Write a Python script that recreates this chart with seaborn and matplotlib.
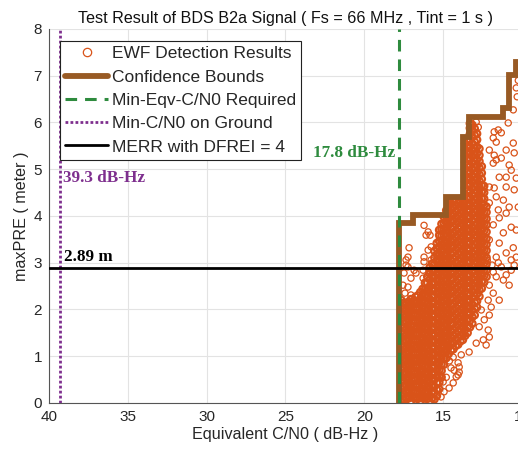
import numpy as np
import pandas as pd
import matplotlib
matplotlib.use('Agg')
import matplotlib.pyplot as plt
from matplotlib.lines import Line2D
import seaborn as sns

# dense part of the EWF detection cloud: column C/N0 values and the maxPRE values read in each column
dense_cn0 = [17.65, 17.35, 17.05, 16.75, 16.45, 16.15, 15.85, 15.55, 15.25, 14.95,
             14.65, 14.35, 14.05, 13.75, 13.45, 13.15, 12.85, 12.55, 12.25]
dense_pre = [
    [0.03, 0.17, 0.3, 0.45, 0.57, 0.72, 0.85, 0.99, 1.12, 1.25, 1.4, 1.53, 1.66, 1.81, 1.94, 2.07, 2.2],
    [0.09, 0.22, 0.37, 0.51, 0.63, 0.78, 0.92, 1.05, 1.18, 1.33, 1.46, 1.59, 1.74, 1.88, 2.01, 2.14],
    [0.04, 0.17, 0.31, 0.43, 0.58, 0.72, 0.85, 0.99, 1.14, 1.27, 1.41, 1.54, 1.67, 1.82, 1.96, 2.09, 2.22],
    [0.1, 0.24, 0.38, 0.51, 0.64, 0.79, 0.93, 1.06, 1.19, 1.34, 1.47, 1.6, 1.75, 1.89, 2.02, 2.15, 2.27],
    [0.03, 0.16, 0.3, 0.45, 0.58, 0.71, 0.86, 0.99, 1.13, 1.26, 1.4, 1.55, 1.68, 1.81, 1.95, 2.1, 2.23, 2.37],
    [0.1, 0.23, 0.38, 0.51, 0.64, 0.78, 0.93, 1.06, 1.2, 1.33, 1.48, 1.61, 1.74, 1.89, 2.02, 2.16, 2.3, 2.43, 2.57],
    [0.03, 0.16, 0.31, 0.44, 0.57, 0.71, 0.86, 0.99, 1.12, 1.27, 1.4, 1.53, 1.68, 1.81, 1.95, 2.08, 2.22,
     2.37, 2.5, 2.64, 2.77, 2.9],
    [0.08, 0.22, 0.35, 0.5, 0.64, 0.77, 0.9, 1.05, 1.18, 1.32, 1.47, 1.6, 1.73, 1.88, 2.01, 2.15, 2.29,
     2.42, 2.56, 2.7, 2.84, 2.97, 3.11, 3.25],
    [0.3, 0.44, 0.57, 0.7, 0.85, 0.98, 1.12, 1.27, 1.4, 1.53, 1.67, 1.82, 1.95, 2.08, 2.23, 2.36, 2.49,
     2.63, 2.78, 2.91, 3.04, 3.18, 3.33, 3.46, 3.59, 3.7],
    [0.82, 0.96, 1.09, 1.23, 1.38, 1.51, 1.64, 1.78, 1.93, 2.06, 2.19, 2.33, 2.48, 2.61, 2.74, 2.88, 3.03,
     3.16, 3.29, 3.43, 3.58, 3.71, 3.84, 3.98],
    [1.05, 1.2, 1.33, 1.46, 1.6, 1.75, 1.88, 2.01, 2.15, 2.3, 2.43, 2.56, 2.71, 2.84, 2.97, 3.11, 3.26,
     3.39, 3.52, 3.66, 3.81, 3.94, 4.07, 4.21, 4.3],
    [1.15, 1.28, 1.43, 1.56, 1.69, 1.83, 1.98, 2.11, 2.24, 2.38, 2.53, 2.66, 2.79, 2.93, 3.08, 3.21, 3.34,
     3.48, 3.63, 3.76, 3.89, 4.03, 4.18, 4.3],
    [1.25, 1.39, 1.53, 1.66, 1.8, 1.94, 2.08, 2.21, 2.35, 2.49, 2.63, 2.76, 2.9, 3.04, 3.18, 3.31, 3.45,
     3.59, 3.73, 3.86, 4.0, 4.14, 4.27],
    [1.35, 1.48, 1.63, 1.76, 1.89, 2.03, 2.18, 2.31, 2.44, 2.58, 2.73, 2.86, 2.99, 3.13, 3.28, 3.41, 3.54,
     3.68, 3.83, 3.96, 4.09, 4.23, 4.33],
    [1.5, 1.63, 1.78, 1.91, 2.04, 2.18, 2.33, 2.46, 2.59, 2.73, 2.88, 3.01, 3.14, 3.28, 3.43, 3.56, 3.69,
     3.83, 3.98, 4.11, 4.24, 4.38, 4.53, 4.66, 4.79, 4.93, 5.08, 5.21, 5.34, 5.48, 5.6],
    [1.7, 1.84, 1.98, 2.11, 2.25, 2.39, 2.53, 2.66, 2.8, 2.94, 3.08, 3.21, 3.35, 3.49, 3.63, 3.76, 3.9,
     4.04, 4.18, 4.31, 4.45, 4.59, 4.73, 4.86, 5.0, 5.14, 5.28, 5.41, 5.55, 5.69, 5.82, 5.95],
    [2.05, 2.18, 2.33, 2.46, 2.59, 2.73, 2.88, 3.01, 3.14, 3.28, 3.43, 3.56, 3.69, 3.83, 3.98, 4.11, 4.24,
     4.38, 4.53, 4.66, 4.79, 4.93, 5.08, 5.21, 5.34, 5.48, 5.63, 5.76],
    [2.45, 2.59, 2.72, 2.86, 3.0, 3.14, 3.27, 3.41, 3.55, 3.69, 3.82, 3.96, 4.1, 4.24, 4.37, 4.51, 4.65,
     4.79, 4.92, 5.06],
    [2.7, 2.84, 2.97, 3.11, 3.26, 3.39, 3.52, 3.66, 3.81, 3.94, 4.08, 4.2],
]

# second pass of dense columns, read between the columns above
dense2_cn0 = [17.5, 17.2, 16.9, 16.6, 16.3, 16.0, 15.7, 15.4, 15.1, 14.8,
              14.5, 14.2, 13.9, 13.6, 13.3, 13.0, 12.7, 12.4]
dense2_pre = [
    [0.08, 0.22, 0.36, 0.5, 0.64, 0.77, 0.92, 1.05, 1.19, 1.32, 1.47, 1.6, 1.74, 1.88, 2.01, 2.14],
    [0.1, 0.24, 0.37, 0.52, 0.65, 0.79, 0.92, 1.07, 1.2, 1.33, 1.48, 1.61, 1.75, 1.89, 2.02, 2.16],
    [0.11, 0.24, 0.38, 0.52, 0.66, 0.79, 0.93, 1.07, 1.21, 1.34, 1.48, 1.62, 1.76, 1.89, 2.03, 2.17],
    [0.09, 0.23, 0.37, 0.51, 0.64, 0.78, 0.92, 1.06, 1.19, 1.33, 1.47, 1.61, 1.74, 1.88, 2.02, 2.16, 2.3],
    [0.1, 0.24, 0.38, 0.51, 0.65, 0.79, 0.93, 1.06, 1.2, 1.34, 1.48, 1.61, 1.75, 1.89, 2.03, 2.16, 2.3, 2.44],
    [0.09, 0.23, 0.37, 0.5, 0.64, 0.78, 0.92, 1.05, 1.19, 1.33, 1.47, 1.6, 1.74, 1.88, 2.02, 2.15, 2.29,
     2.43, 2.57, 2.7],
    [0.1, 0.23, 0.37, 0.51, 0.65, 0.78, 0.92, 1.06, 1.2, 1.33, 1.47, 1.61, 1.75, 1.88, 2.02, 2.16, 2.3,
     2.43, 2.57, 2.71, 2.85, 2.98],
    [0.15, 0.29, 0.43, 0.56, 0.7, 0.84, 0.98, 1.11, 1.25, 1.39, 1.53, 1.66, 1.8, 1.94, 2.08, 2.21, 2.35,
     2.49, 2.63, 2.76, 2.9, 3.04, 3.18, 3.31, 3.42],
    [0.55, 0.69, 0.83, 0.96, 1.1, 1.24, 1.38, 1.51, 1.65, 1.79, 1.93, 2.06, 2.2, 2.34, 2.48, 2.61, 2.75,
     2.89, 3.03, 3.16, 3.3, 3.44, 3.58, 3.71, 3.83],
    [0.96, 1.1, 1.24, 1.38, 1.51, 1.65, 1.79, 1.93, 2.06, 2.2, 2.34, 2.48, 2.61, 2.75, 2.89, 3.03, 3.16,
     3.3, 3.44, 3.58, 3.71, 3.85, 3.99, 4.12],
    [1.12, 1.26, 1.4, 1.53, 1.67, 1.81, 1.95, 2.08, 2.22, 2.36, 2.5, 2.63, 2.77, 2.91, 3.05, 3.18, 3.32,
     3.46, 3.6, 3.73, 3.87, 4.01, 4.15, 4.27],
    [1.22, 1.36, 1.49, 1.63, 1.77, 1.91, 2.04, 2.18, 2.32, 2.46, 2.59, 2.73, 2.87, 3.01, 3.14, 3.28, 3.42,
     3.56, 3.69, 3.83, 3.97, 4.11, 4.24],
    [1.32, 1.45, 1.59, 1.73, 1.87, 2.0, 2.14, 2.28, 2.42, 2.55, 2.69, 2.83, 2.97, 3.1, 3.24, 3.38, 3.52,
     3.65, 3.79, 3.93, 4.07, 4.2, 4.31],
    [1.44, 1.57, 1.71, 1.85, 1.99, 2.12, 2.26, 2.4, 2.54, 2.67, 2.81, 2.95, 3.09, 3.22, 3.36, 3.5, 3.64,
     3.77, 3.91, 4.05, 4.19, 4.32, 4.46, 4.6, 4.74, 4.87, 5.01, 5.15, 5.29, 5.42, 5.55],
    [1.62, 1.76, 1.9, 2.03, 2.17, 2.31, 2.45, 2.58, 2.72, 2.86, 3.0, 3.13, 3.27, 3.41, 3.55, 3.68, 3.82,
     3.96, 4.1, 4.23, 4.37, 4.51, 4.65, 4.78, 4.92, 5.06, 5.2, 5.33, 5.47, 5.61, 5.75, 5.88, 5.98],
    [1.88, 2.02, 2.15, 2.29, 2.43, 2.57, 2.7, 2.84, 2.98, 3.12, 3.25, 3.39, 3.53, 3.67, 3.8, 3.94, 4.08,
     4.22, 4.35, 4.49, 4.63, 4.77, 4.9, 5.04, 5.18, 5.32, 5.45, 5.59, 5.73, 5.87],
    [2.28, 2.42, 2.55, 2.69, 2.83, 2.97, 3.1, 3.24, 3.38, 3.52, 3.65, 3.79, 3.93, 4.07, 4.2, 4.34, 4.48,
     4.62, 4.75, 4.89, 5.03, 5.17, 5.3, 5.44],
    [2.58, 2.72, 2.85, 2.99, 3.13, 3.27, 3.4, 3.54, 3.68, 3.82, 3.95, 4.09, 4.23, 4.37, 4.5, 4.64],
]

# scattered EWF detections outside the dense core
sparse_cn0 = [16.21, 15.95, 15.83, 15.0, 15.76, 15.95, 16.21, 15.76, 16.27, 15.89, 15.57, 17.16, 17.23,
              16.84, 17.35, 16.21, 17.35, 17.23, 17.48, 17.04, 16.72, 16.27, 17.04, 17.23, 16.08, 17.55,
              17.42,
              12.90, 12.77, 10.87, 11.76, 11.50, 11.31, 11.82, 11.63, 12.07, 11.00, 10.55, 10.49, 11.76,
              11.63, 11.31, 11.82, 10.81, 10.68, 11.00, 10.36, 11.44, 12.07, 11.76, 11.00, 10.49, 11.63,
              11.18, 12.07, 10.81, 10.23, 11.50, 11.00, 11.44, 11.82, 10.68, 11.18, 10.36, 12.07, 11.44,
              10.55, 11.00, 11.63, 10.68, 10.36, 10.36, 10.55, 10.23, 10.30,
              10.81, 11.44, 11.00, 10.68, 11.18, 11.63, 12.07, 11.82, 12.14, 11.95, 12.07, 12.58, 12.39,
              12.71, 12.14, 12.07, 12.45, 12.90, 12.27, 13.35, 13.85, 13.98, 14.05, 11.82, 11.31, 10.49,
              11.90, 11.50, 12.20,
              14.81, 14.36, 14.05, 13.98, 14.17, 14.36, 14.62, 14.94, 15.13, 14.50, 14.80, 14.60, 15.00,
              14.30]
sparse_pre = [3.8, 3.66, 3.59, 3.7, 3.34, 3.27, 3.12, 3.06, 2.84, 2.84, 2.91, 3.32, 3.12,
              2.84, 2.95, 3.02, 3.06, 2.91, 2.78, 2.67, 2.78, 2.67, 2.31, 2.48, 3.59, 2.52,
              2.35,
              6.01, 5.90, 5.99, 5.80, 5.84, 5.78, 5.67, 5.58, 5.41, 5.41, 5.56, 5.35, 5.30,
              5.20, 5.24, 5.13, 5.09, 4.98, 4.83, 4.81, 4.83, 4.62, 4.60, 4.62, 4.56, 4.41,
              4.34, 4.28, 4.19, 4.19, 4.13, 4.06, 3.96, 3.81, 3.76, 3.64, 3.70, 3.49, 3.42,
              3.32, 3.21, 3.12, 3.06, 3.12, 6.74, 6.27, 6.90, 6.55,
              2.52, 2.20, 2.74, 2.84, 2.63, 2.70, 2.52, 2.35, 2.20, 2.05, 1.88, 1.99, 1.78,
              1.63, 1.56, 1.41, 1.35, 1.28, 1.24, 1.09, 1.03, 0.77, 0.60, 2.80, 2.91, 2.95,
              2.95, 3.00, 3.05,
              1.07, 0.98, 0.86, 0.66, 0.56, 0.43, 0.32, 0.24, 0.13, 0.75, 0.55, 0.90, 0.45,
              0.70]

# confidence bound staircase
bound_cn0 = [17.8, 17.8, 16.9, 16.9, 14.8, 14.8, 13.75, 13.75, 13.35, 13.35, 11.2, 11.2, 10.8, 10.8,
             10.4, 10.4, 10.0]
bound_pre = [0, 3.85, 3.85, 4.02, 4.02, 4.41, 4.41, 5.69, 5.69, 6.12, 6.12, 6.31, 6.31, 7.02, 7.02,
             7.29, 7.29]

min_eqv_cn0 = 17.8
ground_cn0 = 39.3
merr = 2.89

labels = ['EWF Detection Results', 'Confidence Bounds', 'Min-Eqv-C/N0 Required',
          'Min-C/N0 on Ground', 'MERR with DFREI = 4']

c_pts = '#D95319'
c_bound = '#985A24'
c_green = '#2E8B3E'
c_purple = '#7E2F8E'

sns.set_style('white')
plt.rcParams['font.family'] = ['Liberation Sans', 'DejaVu Sans']

dense_rows = []
for cols, vals in [(dense_cn0, dense_pre), (dense2_cn0, dense2_pre)]:
    for cx, ys in zip(cols, vals):
        dense_rows += [(cx, y) for y in ys]
df_dense = pd.DataFrame(dense_rows, columns=['cn0', 'pre'])
df_sparse = pd.DataFrame({'cn0': sparse_cn0, 'pre': sparse_pre})

fig = plt.figure(figsize=(5.18, 4.53), dpi=100)
ax = fig.add_axes([0.0946, 0.1104, 0.913, 0.8256])

ax.grid(True, color='#E3E3E3', lw=0.8)
ax.set_axisbelow(True)

# overlapping rings in the core read as a nearly solid patch
sns.scatterplot(data=df_dense, x='cn0', y='pre', ax=ax, marker='o', s=22,
                facecolor='none', edgecolor=c_pts, linewidth=1.6, legend=False, zorder=2)
sns.scatterplot(data=df_sparse, x='cn0', y='pre', ax=ax, marker='o', s=20,
                facecolor='none', edgecolor=c_pts, linewidth=0.9, legend=False, zorder=2)

ax.plot(bound_cn0, bound_pre, color=c_bound, lw=4.2, solid_joinstyle='miter', zorder=3)
ax.axvline(min_eqv_cn0, color=c_green, lw=2.2, dashes=(3.8, 2.6), zorder=4)
ax.axvline(ground_cn0, color=c_purple, lw=2.0, linestyle=(0, (1, 0.8)), zorder=4)
ax.axhline(merr, color='black', lw=2.0, zorder=5)

serif = ['Liberation Serif', 'DejaVu Serif']
ax.text(39.12, 4.81, f'{ground_cn0} dB-Hz', color=c_purple, family=serif, weight='bold',
        fontsize=12.3, va='center', ha='left')
ax.text(18.05, 5.35, f'{min_eqv_cn0} dB-Hz', color=c_green, family=serif, weight='bold',
        fontsize=12.3, va='center', ha='right')
ax.text(39.05, 3.12, f'{merr} m', color='black', family=serif, weight='bold',
        fontsize=12.3, va='center', ha='left')

ax.set_xlim(40, 10)
ax.set_ylim(0, 8)
ax.set_xticks([40, 35, 30, 25, 20, 15, 10])
ax.set_yticks(range(0, 9))
ax.tick_params(direction='in', length=4, color='#555555', labelcolor='#262626',
               labelsize=11, pad=5)
for s in ['top', 'right']:
    ax.spines[s].set_visible(False)
for s in ['left', 'bottom']:
    ax.spines[s].set_color('#555555')
    ax.spines[s].set_linewidth(0.8)

ax.set_xlabel('Equivalent C/N0 ( dB-Hz )', fontsize=11.6, color='#262626', labelpad=2)
ax.set_ylabel('maxPRE ( meter )', fontsize=11.6, color='#262626', labelpad=3)
ax.set_title('Test Result of BDS B2a Signal ( Fs = 66 MHz , Tint = 1 s )', fontsize=11.6,
             color='#111111', pad=4)

handles = [
    Line2D([], [], ls='none', marker='o', markersize=6, markerfacecolor='none',
           markeredgecolor=c_pts, markeredgewidth=0.9),
    Line2D([], [], color=c_bound, lw=4.2),
    Line2D([], [], color=c_green, lw=2.2, dashes=(3.8, 2.6)),
    Line2D([], [], color=c_purple, lw=2.0, linestyle=(0, (1, 0.8))),
    Line2D([], [], color='black', lw=2.0),
]
leg = ax.legend(handles, labels, loc='upper left', bbox_to_anchor=(0.023, 0.968), fontsize=12.5,
                frameon=True, fancybox=False, framealpha=1, edgecolor='#222222',
                handlelength=2.5, handletextpad=0.2, labelspacing=0.47, borderpad=0.3,
                borderaxespad=0)
leg.get_frame().set_linewidth(0.8)
leg.set_zorder(10)

plt.savefig('out.png', dpi=100)
